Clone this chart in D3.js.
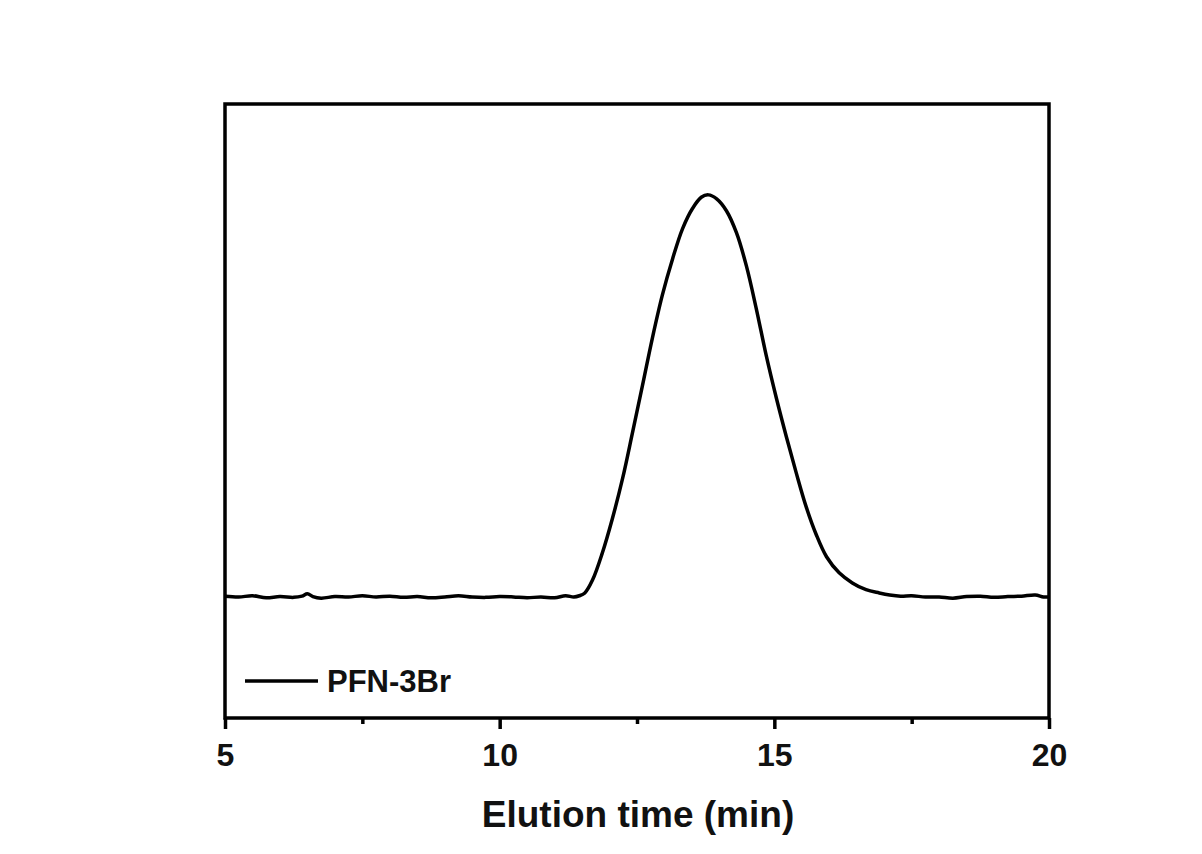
<!DOCTYPE html>
<html>
<head>
<meta charset="utf-8">
<script src="https://cdn.jsdelivr.net/npm/d3@7"></script>
<style>
  body { margin: 0; background: #fff; overflow: hidden; }
  svg { display: block; }
</style>
</head>
<body>
<div id="myChart"></div>
<script>
// Chart size
const w = 1202;
const h = 854;
const font = "'Liberation Sans', Arial, sans-serif";

// Plot box
const margin = {top:104, left:225, bottom:136, right:153};
const innerWidth = w - margin.left - margin.right;
const innerHeight = h - margin.top - margin.bottom;

// Data: elution time (min) and detector signal (a.u.)
const times = [
  5.00, 5.25, 5.50, 5.75, 6.00, 6.25, 6.40, 6.50, 6.60, 6.75, 7.00, 7.25, 7.50, 7.75,
  8.00, 8.25, 8.50, 8.75, 9.00, 9.25, 9.50, 9.75, 10.00, 10.25, 10.50, 10.75, 11.00,
  11.20, 11.35, 11.45, 11.55, 11.69, 11.87, 12.05, 12.24, 12.42, 12.60, 12.78, 12.96,
  13.15, 13.33, 13.51, 13.67, 13.80, 13.95, 14.13, 14.31, 14.49, 14.67, 14.85, 15.04,
  15.22, 15.40, 15.58, 15.76, 15.95, 16.18, 16.42, 16.67, 16.91, 17.10, 17.30, 17.50,
  17.75, 18.00, 18.25, 18.50, 18.75, 19.00, 19.25, 19.50, 19.75, 19.90, 20.00
];
const signal = [
  0.2, 0.0, 0.3, -0.2, 0.1, -0.1, 0.2, 0.8, 0.1, -0.3, 0.1, 0.0, 0.3, 0.0,
  0.2, -0.1, 0.1, -0.2, 0.0, 0.3, 0.0, -0.1, 0.1, 0.0, -0.2, 0.0, -0.2,
  0.3, 0.0, 0.3, 1.0, 4.2, 11.0, 19.4, 29.6, 41.0, 52.6, 64.4, 75.0,
  84.2, 91.6, 96.6, 99.4, 100.0, 99.0, 96.0, 90.6, 82.4, 71.8, 60.2, 49.3,
  39.8, 30.8, 22.4, 15.6, 10.0, 6.0, 3.5, 1.8, 1.0, 0.5, 0.2, 0.3,
  0.0, 0.0, -0.3, 0.1, 0.2, -0.1, 0.1, 0.2, 0.5, 0.0, 0.0
];
const seriesName = "PFN-3Br";
const majorTicks = [5, 10, 15, 20];
const minorTicks = [7.5, 12.5, 17.5];
const xTitle = "Elution time (min)";

const data = times.map((t, i) => ({t: t, v: signal[i]}));

const svg = d3.select("#myChart")
  .append("svg")
    .attr("width", w)
    .attr("height", h);

const mainG = svg.append("g")
  .attr("transform", `translate(${margin.left}, ${margin.top})`);

// Scales
const xScale = d3.scaleLinear()
  .domain([5, 20])
  .range([0, innerWidth]);

const yScale = d3.scaleLinear()
  .domain([-30.1, 122.6])
  .range([innerHeight, 0]);

// Minor ticks
mainG.append("g")
  .attr("transform", `translate(0,${innerHeight})`)
  .call(d3.axisBottom(xScale).tickValues(minorTicks).tickSize(6).tickFormat(""))
  .call(g => g.select(".domain").remove())
  .selectAll(".tick line").attr("stroke", "#000").attr("stroke-width", 3.5);

// Major ticks + labels
const xAxisG = mainG.append("g")
  .attr("transform", `translate(0,${innerHeight})`)
  .attr("font-family", font)
  .attr("font-size", 32)
  .attr("font-weight", "bold")
  .call(d3.axisBottom(xScale).tickValues(majorTicks).tickSize(11).tickPadding(14).tickFormat(d3.format("d")));
xAxisG.attr("font-family", font).attr("font-size", 32);
xAxisG.select(".domain").remove();
xAxisG.selectAll(".tick line").attr("stroke", "#000").attr("stroke-width", 3.5);
xAxisG.selectAll(".tick text").attr("fill", "#111");

// Frame
mainG.append("rect")
  .attr("x", 0)
  .attr("y", 0)
  .attr("width", innerWidth)
  .attr("height", innerHeight)
  .attr("fill", "none")
  .attr("stroke", "#000")
  .attr("stroke-width", 3.5);

// Axis title
mainG.append("text")
  .attr("text-anchor", "middle")
  .attr("x", innerWidth / 2 + 1)
  .attr("y", innerHeight + 109)
  .attr("font-family", font)
  .attr("font-weight", "bold")
  .attr("font-size", 37)
  .attr("fill", "#111")
  .text(xTitle);

// Line
const line = d3.line()
  .x(d => xScale(d.t))
  .y(d => yScale(d.v))
  .curve(d3.curveCatmullRom);

mainG.append("path")
  .datum(data)
  .attr("fill", "none")
  .attr("stroke", "#000")
  .attr("stroke-width", 3.5)
  .attr("stroke-linejoin", "round")
  .attr("d", line);

// Legend
const legend = mainG.append("g")
  .attr("transform", `translate(20, ${innerHeight - 37})`);
legend.append("line")
  .attr("x1", 0).attr("x2", 73)
  .attr("y1", 0).attr("y2", 0)
  .attr("stroke", "#000")
  .attr("stroke-width", 3.5);
legend.append("text")
  .attr("x", 82)
  .attr("y", 11)
  .attr("font-family", font)
  .attr("font-weight", "bold")
  .attr("font-size", 31)
  .attr("fill", "#111")
  .text(seriesName);
</script>
</body>
</html>
